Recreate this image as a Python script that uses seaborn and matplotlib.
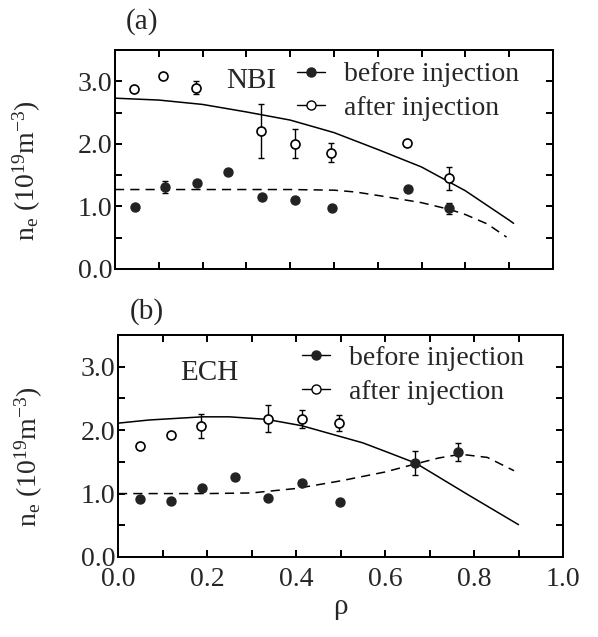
import numpy as np
import matplotlib
matplotlib.use("Agg")
import matplotlib.pyplot as plt
import seaborn as sns
from matplotlib.lines import Line2D

# ---------- data ----------
# (a) NBI
rho_a_before = [0.045, 0.115, 0.187, 0.259, 0.335, 0.411, 0.495, 0.668, 0.762]
ne_a_before = [0.99, 1.31, 1.37, 1.55, 1.15, 1.11, 0.98, 1.28, 0.97]
err_a_before = [0.0, 0.10, 0.04, 0.0, 0.0, 0.0, 0.0, 0.0, 0.09]

rho_a_after = [0.043, 0.110, 0.185, 0.333, 0.410, 0.494, 0.667, 0.762]
ne_a_after = [2.88, 3.08, 2.90, 2.21, 2.00, 1.86, 2.02, 1.45]
err_a_after = [0.0, 0.0, 0.10, 0.43, 0.23, 0.15, 0.0, 0.18]

rho_a_fit_after = [0.0, 0.1, 0.2, 0.3, 0.4, 0.5, 0.6, 0.7, 0.8, 0.9, 0.91]
ne_a_fit_after = [2.73, 2.70, 2.63, 2.51, 2.38, 2.18, 1.91, 1.63, 1.25, 0.78, 0.73]
rho_a_fit_before = [0.0, 0.2, 0.4, 0.5, 0.55, 0.605, 0.7, 0.765, 0.8, 0.85, 0.894]
ne_a_fit_before = [1.27, 1.27, 1.27, 1.26, 1.23, 1.17, 1.06, 0.95, 0.87, 0.72, 0.51]

# (b) ECH
rho_b_before = [0.050, 0.120, 0.188, 0.263, 0.338, 0.414, 0.498, 0.668, 0.765]
ne_b_before = [0.91, 0.89, 1.08, 1.26, 0.93, 1.16, 0.87, 1.48, 1.66]
err_b_before = [0.0, 0.0, 0.0, 0.0, 0.0, 0.0, 0.0, 0.19, 0.14]

rho_b_after = [0.050, 0.119, 0.186, 0.336, 0.414, 0.496]
ne_b_after = [1.75, 1.93, 2.07, 2.18, 2.17, 2.11]
err_b_after = [0.03, 0.04, 0.19, 0.21, 0.14, 0.13]

rho_b_fit_after = [0.0, 0.07, 0.19, 0.25, 0.334, 0.413, 0.55, 0.61, 0.669, 0.787, 0.90]
ne_b_fit_after = [2.11, 2.16, 2.21, 2.21, 2.17, 2.07, 1.80, 1.64, 1.48, 0.98, 0.51]
rho_b_fit_before = [0.0, 0.1, 0.2, 0.3, 0.4, 0.5, 0.6, 0.67, 0.72, 0.77, 0.83, 0.89]
ne_b_fit_before = [1.00, 1.00, 1.00, 1.01, 1.08, 1.20, 1.34, 1.47, 1.56, 1.62, 1.57, 1.36]

YTICKS = np.arange(0.0, 3.51, 0.5)
XTICKS = np.arange(0.0, 1.01, 0.1)
LEGEND_LABELS = ["before injection", "after injection"]

# ---------- style ----------
sns.set_theme(style="ticks")
plt.rcParams["font.family"] = ["Liberation Serif", "DejaVu Serif"]
plt.rcParams["mathtext.fontset"] = "custom"
plt.rcParams["mathtext.rm"] = "Liberation Serif"
plt.rcParams["mathtext.it"] = "Liberation Serif:italic"
plt.rcParams["mathtext.default"] = "regular"


def draw_panel(ax, rb, nb, eb, ra, na, ea, fit_a, fit_b):
    rb, nb, eb = map(np.asarray, (rb, nb, eb))
    ra, na, ea = map(np.asarray, (ra, na, ea))

    sns.lineplot(x=fit_a[0], y=fit_a[1], ax=ax, color="black", lw=1.1,
                 sort=False, estimator=None)
    sns.lineplot(x=fit_b[0], y=fit_b[1], ax=ax, color="black", lw=1.1,
                 sort=False, estimator=None, linestyle=(0, (6, 4)))

    m = ea > 0
    ax.errorbar(ra[m], na[m], yerr=ea[m], fmt="none", ecolor="black",
                elinewidth=1.0, capsize=2.5, capthick=1.0)
    m = eb > 0
    ax.errorbar(rb[m], nb[m], yerr=eb[m], fmt="none", ecolor="black",
                elinewidth=1.0, capsize=2.5, capthick=1.0)

    sns.scatterplot(x=ra, y=na, ax=ax, color="white", edgecolor="black",
                    linewidth=1.2, s=42, zorder=4)
    sns.scatterplot(x=rb, y=nb, ax=ax, color="#222222", edgecolor="#222222",
                    linewidth=1.0, s=42, zorder=5)

    ax.set_xlabel("")
    ax.set_ylabel(r"n$_e$ (10$^{19}$m$^{-3}$)", fontsize=20)
    ax.yaxis.set_label_coords(-0.165, 0.45)

    handles = [
        Line2D([], [], color="black", lw=1.0, marker="o", markersize=6.5,
               markerfacecolor="#222222", markeredgecolor="#222222"),
        Line2D([], [], color="black", lw=1.0, marker="o", markersize=6.5,
               markerfacecolor="white", markeredgecolor="black"),
    ]
    return handles


def style_axes(ax, show_xlabels):
    ax.set_xlim(0.0, 1.0)
    ax.set_ylim(0.0, 3.5)
    ax.set_xticks(XTICKS)
    if show_xlabels:
        ax.set_xticklabels([f"{v:.1f}" if int(round(v * 10)) % 2 == 0 else "" for v in XTICKS])
    else:
        ax.set_xticklabels([])
    ax.set_yticks(YTICKS)
    ax.set_yticklabels([f"{v:.1f}" if abs(v - round(v)) < 1e-6 else "" for v in YTICKS])
    for s in ax.spines.values():
        s.set_linewidth(1.3)
        s.set_color("black")
    ax.tick_params(direction="in", top=True, right=True, length=5,
                   width=1.3, color="black")
    ax.tick_params(axis="y", labelsize=20, pad=2)
    ax.tick_params(axis="x", labelsize=20, pad=7)


def add_tick_frame(fig, ax):
    # empty transparent axes on top of the data axes that carries the
    # inward tick marks on all four sides
    ov = fig.add_axes(ax.get_position())
    ov.patch.set_visible(False)
    ov.set_xlim(ax.get_xlim())
    ov.set_ylim(ax.get_ylim())
    ov.set_xticks(XTICKS)
    ov.set_yticks(YTICKS)
    ov.tick_params(direction="in", top=True, right=True, bottom=True, left=True,
                   length=5, width=1.3, color="black",
                   labelbottom=False, labelleft=False,
                   labeltop=False, labelright=False)
    for s in ov.spines.values():
        s.set_linewidth(1.3)
        s.set_color("black")
    return ov


fig = plt.figure(figsize=(5.98, 6.37), dpi=100)
fig.patch.set_facecolor("white")

ax_a = fig.add_axes([115 / 598, 1 - 269 / 637, 438 / 598, 219 / 637])
ax_b = fig.add_axes([118 / 598, 1 - 557 / 637, 445 / 598, 222 / 637])

h = draw_panel(ax_a, rho_a_before, ne_a_before, err_a_before,
               rho_a_after, ne_a_after, err_a_after,
               (rho_a_fit_after, ne_a_fit_after),
               (rho_a_fit_before, ne_a_fit_before))
ax_a.legend(h, LEGEND_LABELS, loc="center left",
            bbox_to_anchor=(0.415, 0.81), frameon=False, fontsize=20,
            borderpad=0, borderaxespad=0, handlelength=1.0,
            handletextpad=0.7, labelspacing=0.3)
ax_a.text(0.31, 0.86, "NBI", transform=ax_a.transAxes, fontsize=21,
          ha="center", va="center")

h = draw_panel(ax_b, rho_b_before, ne_b_before, err_b_before,
               rho_b_after, ne_b_after, err_b_after,
               (rho_b_fit_after, ne_b_fit_after),
               (rho_b_fit_before, ne_b_fit_before))
ax_b.legend(h, LEGEND_LABELS, loc="center left",
            bbox_to_anchor=(0.413, 0.82), frameon=False, fontsize=20,
            borderpad=0, borderaxespad=0, handlelength=1.0,
            handletextpad=0.7, labelspacing=0.3)
ax_b.text(0.205, 0.83, "ECH", transform=ax_b.transAxes, fontsize=21,
          ha="center", va="center")
ax_b.set_xlabel("ρ", fontsize=21, labelpad=2)

style_axes(ax_a, False)
style_axes(ax_b, True)
add_tick_frame(fig, ax_a)
add_tick_frame(fig, ax_b)

fig.text(142 / 598, 1 - 22 / 637, "(a)", fontsize=21, ha="center", va="center")
fig.text(147 / 598, 1 - 312 / 637, "(b)", fontsize=21, ha="center", va="center")

fig.savefig("out.png", dpi=100, facecolor="white")
